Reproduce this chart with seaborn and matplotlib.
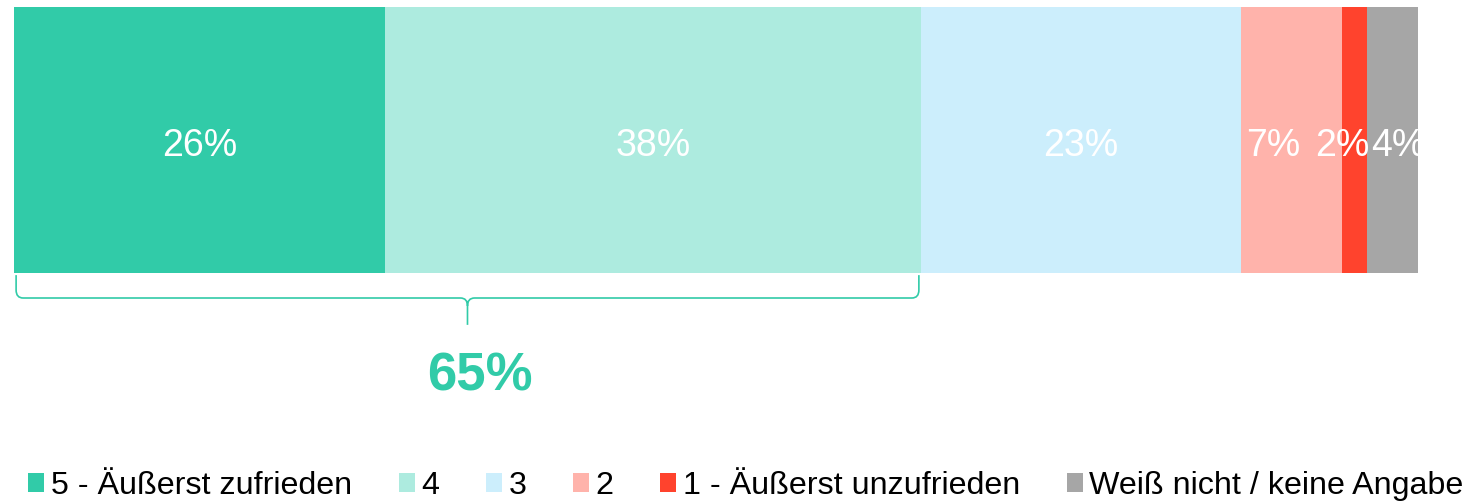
import numpy as np
import pandas as pd
import seaborn as sns
import matplotlib.pyplot as plt
from matplotlib.patches import Patch, PathPatch
from matplotlib.path import Path
import matplotlib.transforms as mtransforms

# chart data
categories = ["5 - Äußerst zufrieden", "4", "3", "2", "1 - Äußerst unzufrieden", "Weiß nicht / keine Angabe"]
shares = [26.4, 38.2, 22.8, 7.2, 1.8, 3.6]
colors = ["#31CBA8", "#ADEBDF", "#CCEEFC", "#FFB3AB", "#FF432D", "#A6A6A6"]
top_box = categories[:2]

# small label nudges so the narrow segments do not collide
label_shift = [0, 0, 0, -1.3, -0.9, 0.4]

teal = colors[0]

sns.set_theme(style="white")
plt.rcParams["font.family"] = ["Liberation Sans", "DejaVu Sans"]

fig = plt.figure(figsize=(14.8, 5.01), dpi=100)
W, H = 1480, 501
ax = fig.add_axes([14 / W, 1 - 273 / H, (1418 - 14) / W, (273 - 7) / H])

df = pd.DataFrame({"category": categories, "share": shares})
df["cum"] = df["share"].cumsum()
df["row"] = ""

# stacked bar: draw cumulative totals from the longest down
for i in range(len(df) - 1, -1, -1):
    sns.barplot(data=df.iloc[[i]], x="cum", y="row", orient="h", color=colors[i],
                saturation=1, width=1, errorbar=None, linewidth=0, ax=ax)

ax.set_xlim(0, 100)
ax.set_ylim(0.5, -0.5)
ax.axis("off")

# segment labels
starts = df["cum"] - df["share"]
for i, row in df.iterrows():
    x = starts[i] + row["share"] / 2 + label_shift[i]
    ax.text(x, 0.022, f"{row['share']:.0f}%", color="white", fontsize=27,
            ha="center", va="center", clip_on=True)

# brace under the top-two box
top_total = df.loc[df["category"].isin(top_box), "share"].sum()
trans = mtransforms.blended_transform_factory(ax.transData, ax.transAxes)
x0, x1 = 0.15, top_total - 0.15
xm = top_total / 2
y_top, y_mid, y_tip = -0.008, -0.094, -0.195
rx, ry = 0.5, 0.03
verts = [
    (x0, y_top), (x0, y_mid + ry), (x0, y_mid), (x0 + rx, y_mid),
    (xm - rx, y_mid), (xm, y_mid), (xm, y_mid - ry), (xm, y_tip),
    (xm, y_mid - ry), (xm, y_mid), (xm + rx, y_mid),
    (x1 - rx, y_mid), (x1, y_mid), (x1, y_mid + ry), (x1, y_top),
]
codes = [
    Path.MOVETO, Path.LINETO, Path.CURVE3, Path.CURVE3,
    Path.LINETO, Path.CURVE3, Path.CURVE3, Path.LINETO,
    Path.MOVETO, Path.CURVE3, Path.CURVE3,
    Path.LINETO, Path.CURVE3, Path.CURVE3, Path.LINETO,
]
brace = PathPatch(Path(verts, codes), fill=False, edgecolor=teal, lw=1.2,
                  transform=trans, clip_on=False)
ax.add_patch(brace)

ax.text(xm + 0.9, -0.39, f"{top_total:.0f}%", color=teal, fontsize=38,
        fontweight="bold", ha="center", va="center", transform=trans, clip_on=False)

# legend
handles = [Patch(facecolor=c, edgecolor="none", label=l) for c, l in zip(colors, categories)]
leg = fig.legend(handles=handles, loc="center", bbox_to_anchor=(0.504, 1 - 486 / H), ncol=6,
                 frameon=False, fontsize=23.2, handlelength=0.5, handleheight=0.5,
                 handletextpad=0.2, columnspacing=1.45, borderaxespad=0, borderpad=0)
for t in leg.get_texts():
    t.set_color("black")

fig.savefig("out.png", dpi=100)
